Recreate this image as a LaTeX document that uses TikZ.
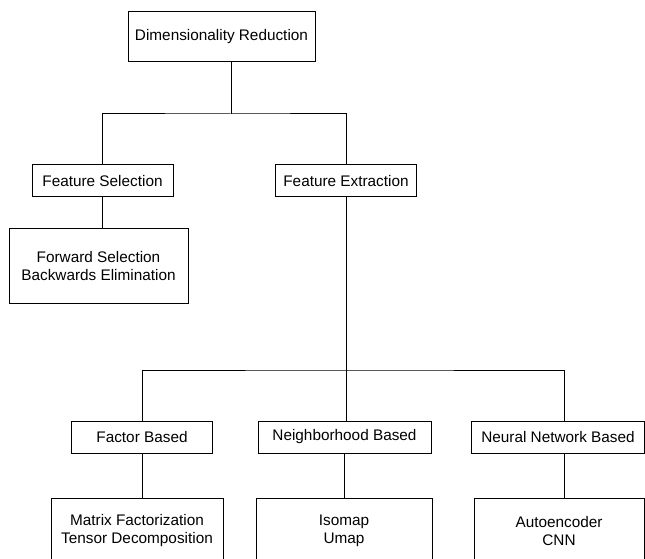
\documentclass[tikz,border=0pt]{standalone}
\usepackage{fontspec}
\setmainfont{Liberation Sans}
\begin{document}
\begin{tikzpicture}[
    x=0.75pt, y=-0.75pt,
    bloc/.style={draw, line width=0.75pt, inner sep=0pt, align=center,
                 font=\fontsize{11.5}{13.5}\selectfont},
    lien/.style={line width=0.75pt}
]
    \useasboundingbox (0,0) rectangle (645,559);
    \clip (0,0) rectangle (645,559);

    \node[bloc, minimum width=140.25pt, minimum height=37.5pt] (root) at (221.5,37) {Dimensionality Reduction};

    \node[bloc, minimum width=105.75pt, minimum height=24pt] (fs) at (102.5,181) {Feature Selection};
    \node[bloc, minimum width=105.75pt, minimum height=24pt] (fe) at (346,181) {Feature Extraction};
    \node[bloc, minimum width=134.25pt, minimum height=55.5pt] (fsm) at (98.5,266) {Forward Selection\\Backwards Elimination};

    \node[bloc, minimum width=105.75pt, minimum height=24pt] (fb) at (142,437) {Factor Based};
    \node[bloc, minimum width=129.75pt, minimum height=24pt] (nb) at (344.5,437) {Neighborhood Based};
    \node[bloc, minimum width=129.4pt, minimum height=24pt] (nn) at (558,437) {Neural Network Based};

    \node[bloc, minimum width=129pt, minimum height=49.5pt] (mf) at (137,531) {Matrix Factorization\\Tensor Decomposition};
    \node[bloc, minimum width=132pt, minimum height=49.5pt] (iso) at (344,531) {Isomap\\Umap};
    \node[bloc, minimum width=127.5pt, minimum height=49.5pt] (ae) at (559,531) {Autoencoder\\CNN};

    \coordinate (j1) at (231,114);
    \coordinate (j2) at (346,370);
    \coordinate (b3) at (564,370);

    \draw[lien] (root.south -| j1) -- (j1);
    \draw[lien] (fs.north) |- (j1) -| (fe.north);
    \draw[lien] (fs.south) -- (fs.south |- fsm.north);
    \draw[lien] (fe.south) -- (j2);
    \draw[lien] (fb.north) |- (j2) -| (b3);
    \draw[lien] (j2) -- (j2 |- nb.north);
    \draw[lien] (b3) -- (b3 |- nn.north);
    \draw[lien] (fb.south) -- (fb.south |- mf.north);
    \draw[lien] (nb.south) -- (nb.south |- iso.north);
    \draw[lien] (b3 |- nn.south) -- (b3 |- ae.north);
\end{tikzpicture}
\end{document}
